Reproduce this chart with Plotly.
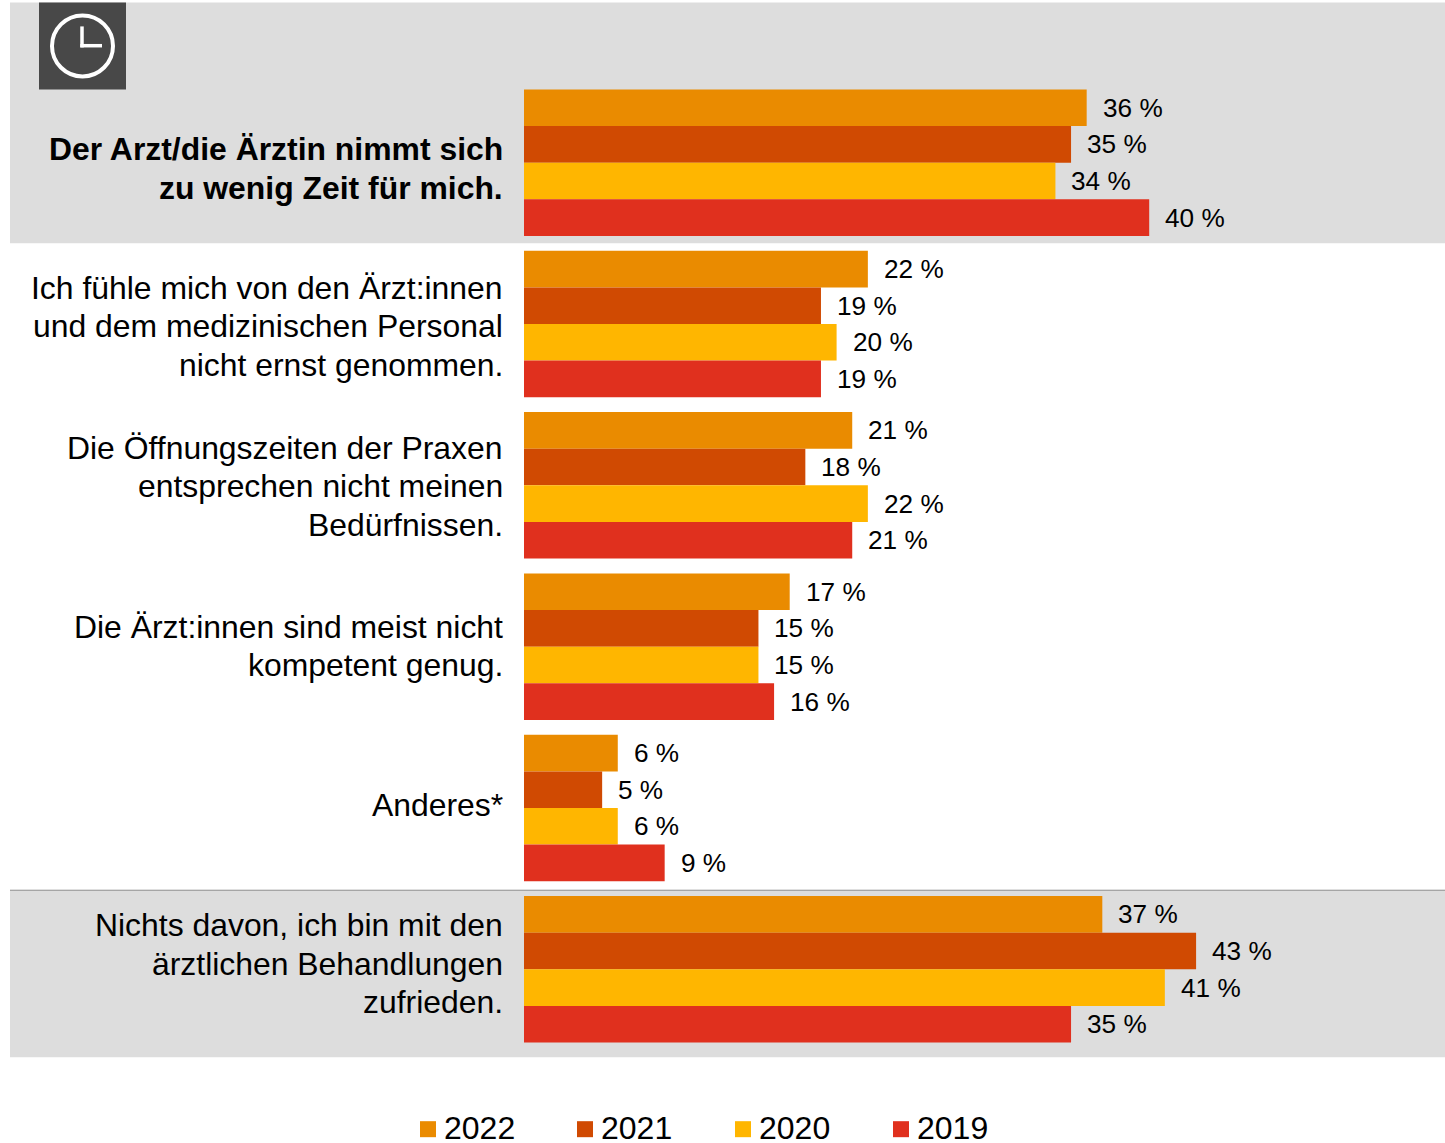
import plotly.graph_objects as go

W, H = 1445, 1143
PLOT_L, PLOT_T, PLOT_B = 524, 81.6, 1049.8
FONT = "Liberation Sans"

categories = [
    "Der Arzt/die Ärztin nimmt sich<br>zu wenig Zeit für mich.",
    "Ich fühle mich von den Ärzt:innen<br>und dem medizinischen Personal<br>nicht ernst genommen.",
    "Die Öffnungszeiten der Praxen<br>entsprechen nicht meinen<br>Bedürfnissen.",
    "Die Ärzt:innen sind meist nicht<br>kompetent genug.",
    "Anderes*",
    "Nichts davon, ich bin mit den<br>ärztlichen Behandlungen<br>zufrieden.",
]
years = ["2022", "2021", "2020", "2019"]
colors = ["#EA8B00", "#D04A02", "#FFB600", "#E0301E"]
values_2022 = [36, 22, 21, 17, 6, 37]
values_2021 = [35, 19, 18, 15, 5, 43]
values_2020 = [34, 20, 22, 15, 6, 41]
values_2019 = [40, 19, 21, 16, 9, 35]
series = [values_2022, values_2021, values_2020, values_2019]

bargap = 0.092
caption_nudge = [6, 2, 1, -0.5, -3, -5.5]   # vertical fine-tuning of the row captions, px
CAPTION_LEADING = 38.5


def px(x):
    """Page x in pixels to the paper coordinate of the plot area."""
    return (x - PLOT_L) / (W - PLOT_L)


def py(y):
    """Page y in pixels to the paper coordinate of the plot area."""
    return (PLOT_B - y) / (PLOT_B - PLOT_T)


def panel(x0, y0, x1, y1, color, layer="below"):
    return dict(type="rect", xref="paper", yref="paper", layer=layer,
                x0=px(x0), x1=px(x1), y0=py(y0), y1=py(y1),
                fillcolor=color, line=dict(width=0))


def stroke(x0, y0, x1, y1, color, width, kind="line"):
    return dict(type=kind, xref="paper", yref="paper", layer="above",
                x0=px(x0), x1=px(x1), y0=py(y0), y1=py(y1),
                line=dict(color=color, width=width))


fig = go.Figure()
for name, vals, col in zip(years, series, colors):
    fig.add_trace(go.Bar(
        name=name, y=categories, x=vals, orientation="h",
        marker=dict(color=col, line=dict(width=0)),
    ))

annotations = []
band = (1 - bargap) / len(series)
for j, vals in enumerate(series):
    for i, v in enumerate(vals):
        annotations.append(dict(
            x=v, y=i + (j - 1.5) * band, xref="x", yref="y",
            text=f"{v} %", showarrow=False, xanchor="left", yanchor="middle",
            xshift=14, font=dict(family=FONT, size=26.2, color="#000000"),
        ))

# Row captions: one annotation per line to hold the tight leading
for i, cat in enumerate(categories):
    lines = cat.split("<br>")
    for k, line in enumerate(lines):
        offset = (k - (len(lines) - 1) / 2) * CAPTION_LEADING + caption_nudge[i]
        annotations.append(dict(
            x=px(505), y=i, xref="paper", yref="y", yshift=-offset,
            text=f"<b>{line}</b>" if i == 0 else line,
            showarrow=False, xanchor="right", yanchor="middle", align="right",
            font=dict(family=FONT, size=31.9, color="#000000"),
        ))

shapes = [
    panel(10, 2, 1445, 243, "#DDDDDD"),
    panel(10, 890, 1445, 1057, "#DDDDDD"),
    stroke(10, 890, 1445, 890, "#8C8C8C", 1),
    panel(39, 2, 126, 89, "#484848", layer="above"),
    stroke(52, 15, 113, 76, "#FFFFFF", 4, kind="circle"),
    stroke(82, 26, 82, 47, "#FFFFFF", 3.5),
    stroke(80.3, 45.3, 102, 45.3, "#FFFFFF", 3.5),
]

# Legend row under the chart
swatch_x = [420, 577, 735, 893]
for year, col, x in zip(years, colors, swatch_x):
    shapes.append(panel(x, 1121, x + 16, 1137, col))
    annotations.append(dict(
        x=px(x + 21.7), y=py(1128), xref="paper", yref="paper",
        text=year, showarrow=False, xanchor="left", yanchor="middle",
        font=dict(family=FONT, size=32, color="#000000"),
    ))

fig.update_layout(
    width=W, height=H, barmode="group", bargap=bargap, bargroupgap=0,
    margin=dict(l=PLOT_L, r=0, t=PLOT_T, b=H - PLOT_B, pad=0),
    paper_bgcolor="#FFFFFF", plot_bgcolor="rgba(0,0,0,0)",
    showlegend=False, shapes=shapes, annotations=annotations,
    font=dict(family=FONT),
    xaxis=dict(range=[0, (W - PLOT_L) / 15.63], visible=False, fixedrange=True),
    yaxis=dict(autorange="reversed", showticklabels=False, showgrid=False,
               zeroline=False, showline=False, ticks="", fixedrange=True),
)

fig.write_html("out.html", config=dict(displayModeBar=False))
